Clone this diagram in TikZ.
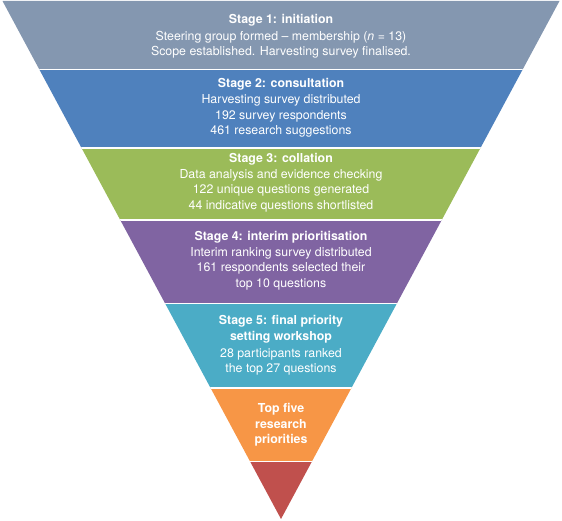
\documentclass[tikz,border=0pt]{standalone}
\usepackage{fontspec}
\setmainfont{TeX Gyre Heros}
\usepackage{xcolor}
\usepackage{tikz}
\usetikzlibrary{calc}
\definecolor{stagea}{HTML}{8497B0}
\definecolor{stageb}{HTML}{4F81BD}
\definecolor{stagec}{HTML}{9BBB59}
\definecolor{staged}{HTML}{8064A2}
\definecolor{stagee}{HTML}{4BACC6}
\definecolor{stagef}{HTML}{F79646}
\definecolor{stageg}{HTML}{C0504D}

\begin{document}
\begin{tikzpicture}[x=1bp,y=-1bp,
      bandtext/.style={align=center,text=white,inner sep=0pt,
        font=\fontsize{12.4}{15.4}\selectfont}]
      \useasboundingbox (0,0) rectangle (562,521);
      \begin{scope}
        \clip (2.5,1) -- (559.5,1) -- (281,519) -- cycle;
        \foreach \ya/\yb/\col in {0/69.5/stagea, 69.5/148/stageb, 148/219.9/stagec,
          219.9/303.5/staged, 303.5/387.9/stagee, 387.9/461.5/stagef, 461.5/521/stageg}
          \fill[\col] (0,\ya) rectangle (562,\yb);
        \foreach \y in {69.5,148,219.9,303.5,387.9,461.5}
          \draw[white, line width=1.8bp] (0,\y) -- (562,\y);
      \end{scope}
      \node[bandtext] (S1) at (281,36.3) {\textbf{Stage 1: initiation}\\[1pt]
        Steering group formed – membership (\textit{n} = 13)\\
        Scope established. Harvesting survey finalised.};
      \node[bandtext] (S2) at (281,107.6) {\textbf{Stage 2: consultation}\\[1pt]
        Harvesting survey distributed\\
        192 survey respondents\\
        461 research suggestions};
      \node[bandtext] (S3) at (281,182.5) {\textbf{Stage 3: collation}\\[1pt]
        Data analysis and evidence checking\\
        122 unique questions generated\\
        44 indicative questions shortlisted};
      \node[bandtext] (S4) at (281,260.3) {\textbf{Stage 4: interim prioritisation}\\[1pt]
        Interim ranking survey distributed\\
        161 respondents selected their\\
        top 10 questions};
      \node[bandtext] (S5) at (281,345.5) {\textbf{Stage 5: final priority}\\
        \textbf{setting workshop}\\[1.5pt]
        28 participants ranked\\
        the top 27 questions};
      \node[bandtext] (top) at (281,424.8) {\textbf{Top five}\\
        \textbf{research}\\
        \textbf{priorities}};
    \end{tikzpicture}
\end{document}
